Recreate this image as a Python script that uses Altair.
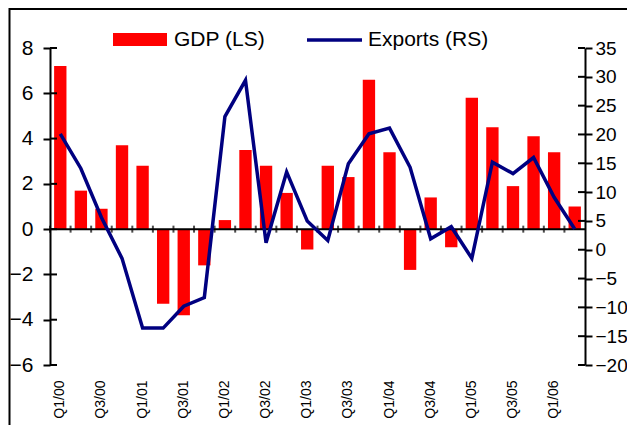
import altair as alt
import pandas as pd

# ---- data ----
quarters = ["Q1/00", "Q2/00", "Q3/00", "Q4/00", "Q1/01", "Q2/01", "Q3/01", "Q4/01",
            "Q1/02", "Q2/02", "Q3/02", "Q4/02", "Q1/03", "Q2/03", "Q3/03", "Q4/03",
            "Q1/04", "Q2/04", "Q3/04", "Q4/04", "Q1/05", "Q2/05", "Q3/05", "Q4/05",
            "Q1/06", "Q2/06"]
gdp = [7.2, 1.7, 0.9, 3.7, 2.8, -3.3, -3.8, -1.6, 0.4, 3.5, 2.8, 1.6, -0.9,
       2.8, 2.3, 6.6, 3.4, -1.8, 1.4, -0.8, 5.8, 4.5, 1.9, 4.1, 3.4, 1.0]
exports = [20.1, 14.1, 5.6, -1.5, -13.6, -13.6, -9.8, -8.3, 23.1, 29.4, 1.2, 13.5, 5.0,
           1.6, 14.9, 20.1, 21.1, 14.3, 1.9, 4.0, -1.5, 15.2, 13.2, 16.0, 9.1, 3.6]
left_ticks = [-6, -4, -2, 0, 2, 4, 6, 8]
right_ticks = [-20, -15, -10, -5, 0, 5, 10, 15, 20, 25, 30, 35]
zero_line = [0]
title_text = ["(Q/Q % change, SAAR)"]
gdp_label = ["GDP (LS)"]
exports_label = ["Exports (RS)"]

df = pd.DataFrame({"quarter": quarters, "gdp": gdp, "exports": exports,
                   "base": [zero_line[0]] * len(quarters)})
lt = pd.DataFrame({"v": left_ticks})
rt = pd.DataFrame({"v": right_ticks})
zl = pd.DataFrame({"v": zero_line})
tt = pd.DataFrame({"t": title_text})
lg1 = pd.DataFrame({"t": gdp_label})
lg2 = pd.DataFrame({"t": exports_label})

W, H = 535, 317
FONT = "Liberation Sans"
RED = "#ff0000"
NAVY = "#000080"

left_domain = [-6, 8]
right_domain = [-20, 35]


def lscale():
    return alt.Scale(domain=left_domain, nice=False, zero=False)


def rscale():
    return alt.Scale(domain=right_domain, nice=False, zero=False)


xscale = alt.Scale(paddingInner=0, paddingOuter=0)

x_axis = alt.Axis(orient="bottom", title=None, labelAngle=-90, labelFontSize=14,
                  labelPadding=15, ticks=False, domain=False, labelColor="black",
                  labelExpr="(indexof(datum.value, 'Q1') == 0 || indexof(datum.value, 'Q3') == 0) ? datum.value : ''")

left_axis = alt.Axis(orient="left", values=left_ticks, title=None, grid=False,
                     tickSize=7, tickWidth=2, tickColor="black",
                     domainWidth=2, domainColor="black",
                     labelFontSize=21, labelPadding=10, labelColor="black")
right_axis = alt.Axis(orient="right", values=right_ticks, title=None, grid=False,
                      tickSize=7, tickWidth=2, tickColor="black",
                      domainWidth=2, domainColor="black",
                      labelFontSize=19, labelPadding=3, labelColor="black")

X = alt.X("quarter:N", sort=quarters, scale=xscale, axis=x_axis)

frame = alt.Chart(tt).mark_rect(fill=None, stroke="black", strokeWidth=2).encode(
    x=alt.value(-40.5), x2=alt.value(583), y=alt.value(-39), y2=alt.value(420))

title = alt.Chart(tt).mark_text(font=FONT, fontSize=18, fontWeight="bold",
                                align="left", baseline="alphabetic").encode(
    x=alt.value(-40), y=alt.value(-43), text="t:N")

bars = alt.Chart(df).mark_bar(color=RED, width=alt.RelativeBandSize(0.6)).encode(
    x=X, y=alt.Y("gdp:Q", scale=lscale(), axis=left_axis))

zero_rule = alt.Chart(zl).mark_rule(color="black", strokeWidth=2).encode(
    y=alt.Y("v:Q", scale=lscale(), axis=None))

xticks = alt.Chart(df).mark_tick(color="black", thickness=2, size=7, orient="vertical").encode(
    x=alt.X("quarter:N", sort=quarters, scale=xscale, axis=x_axis, bandPosition=0),
    y=alt.Y("base:Q", scale=lscale(), axis=None))

lticks = alt.Chart(lt).mark_rule(color="black", strokeWidth=2).encode(
    y=alt.Y("v:Q", scale=lscale(), axis=None), x=alt.value(0), x2=alt.value(7))

line = alt.Chart(df).mark_line(color=NAVY, strokeWidth=3.5).encode(
    x=X, y=alt.Y("exports:Q", scale=rscale(), axis=right_axis))

rticks = alt.Chart(rt).mark_rule(color="black", strokeWidth=2).encode(
    y=alt.Y("v:Q", scale=rscale(), axis=None), x=alt.value(W - 7), x2=alt.value(W))

# legend (drawn as marks)
leg_sw1 = alt.Chart(lg1).mark_rect(color=RED).encode(
    x=alt.value(63), x2=alt.value(117), y=alt.value(-15), y2=alt.value(-2))
leg_tx1 = alt.Chart(lg1).mark_text(font=FONT, fontSize=21, align="left", baseline="middle",
                                   color="black").encode(
    x=alt.value(124), y=alt.value(-8), text="t:N")
leg_sw2 = alt.Chart(lg2).mark_rule(color=NAVY, strokeWidth=3.5).encode(
    x=alt.value(257), x2=alt.value(312), y=alt.value(-8))
leg_tx2 = alt.Chart(lg2).mark_text(font=FONT, fontSize=21, align="left", baseline="middle",
                                   color="black").encode(
    x=alt.value(318), y=alt.value(-8), text="t:N")

chart = alt.layer(frame, title, bars, zero_rule, xticks, lticks, line, rticks,
                  leg_sw1, leg_tx1, leg_sw2, leg_tx2).resolve_scale(
    y="independent").properties(
    width=W, height=H,
    autosize=alt.AutoSizeParams(type="none"),
    padding={"left": 42, "top": 40, "right": 42, "bottom": 60},
).configure_view(stroke=None).configure_axis(labelFont=FONT)

chart.save("out.html", embed_options={"renderer": "svg", "actions": False})
